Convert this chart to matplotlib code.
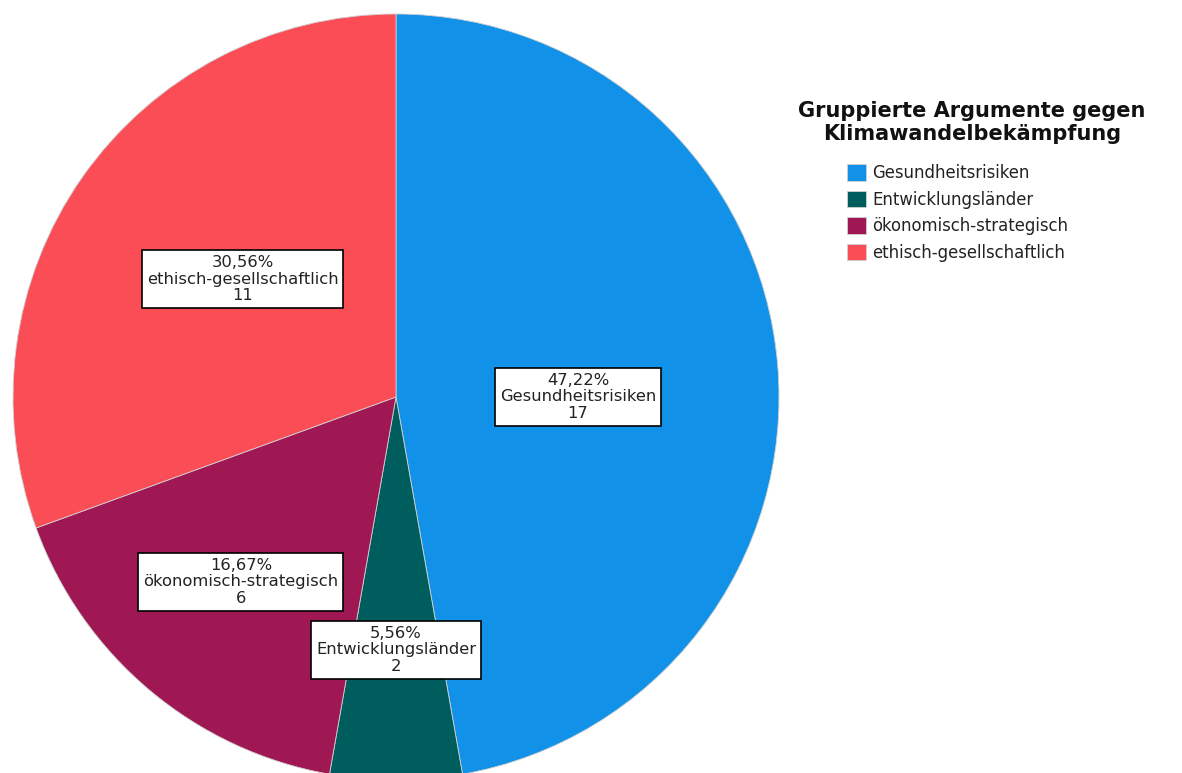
import matplotlib
matplotlib.use("Agg")
import matplotlib.pyplot as plt
import numpy as np

categories = ["Gesundheitsrisiken", "Entwicklungsländer", "ökonomisch-strategisch", "ethisch-gesellschaftlich"]
counts = [17, 2, 6, 11]
percent_labels = ["47,22%", "5,56%", "16,67%", "30,56%"]
colors = ["#1192E8", "#005D5D", "#9F1853", "#FA4D56"]
legend_title = "Gruppierte Argumente gegen\nKlimawandelbekämpfung"

plt.rcParams['font.family'] = ['DejaVu Sans']

W, H = 1182, 773
fig = plt.figure(figsize=(W / 100, H / 100), dpi=100)
cx, cy, r = 396, 397, 383
ax = fig.add_axes([(cx - r) / W, (H - cy - r) / H, 2 * r / W, 2 * r / H])

wedges, _ = ax.pie(counts, colors=colors, startangle=90, counterclock=False,
                   wedgeprops=dict(edgecolor="#d0d0d0", linewidth=0.6))
ax.set_xlim(-1, 1)
ax.set_ylim(-1, 1)
ax.set_aspect("equal")
ax.axis("off")

# label anchor: radius factor and angle shift (degrees) relative to the wedge middle
label_r = [0.475, 0.66, 0.63, 0.505]
label_shift = [-5, 0, 0, -2.5]
for w, cat, n, p, lr, sh in zip(wedges, categories, counts, percent_labels, label_r, label_shift):
    ang = np.deg2rad((w.theta1 + w.theta2) / 2 + sh)
    x, y = lr * np.cos(ang), lr * np.sin(ang)
    ax.text(x, y, f"{p}\n{cat}\n{n}", ha="center", va="center", fontsize=11.8,
            linespacing=1.12, color="#222222",
            bbox=dict(boxstyle="square,pad=0.3", facecolor="white", edgecolor="black", linewidth=1.2))

fig.text(972 / W, 1 - 101 / H, legend_title, ha="center", va="top", fontsize=15,
         fontweight="bold", linespacing=1.18, color="#111111")

leg = fig.legend(wedges, categories, loc="upper left",
                 bbox_to_anchor=(847 / W, 1 - 164 / H), frameon=False,
                 fontsize=11.9, handlelength=1.15, handleheight=1.15,
                 handletextpad=0.4, labelspacing=0.52, borderaxespad=0, borderpad=0)
for t in leg.get_texts():
    t.set_color("#222222")

fig.savefig("out.png", dpi=100)
